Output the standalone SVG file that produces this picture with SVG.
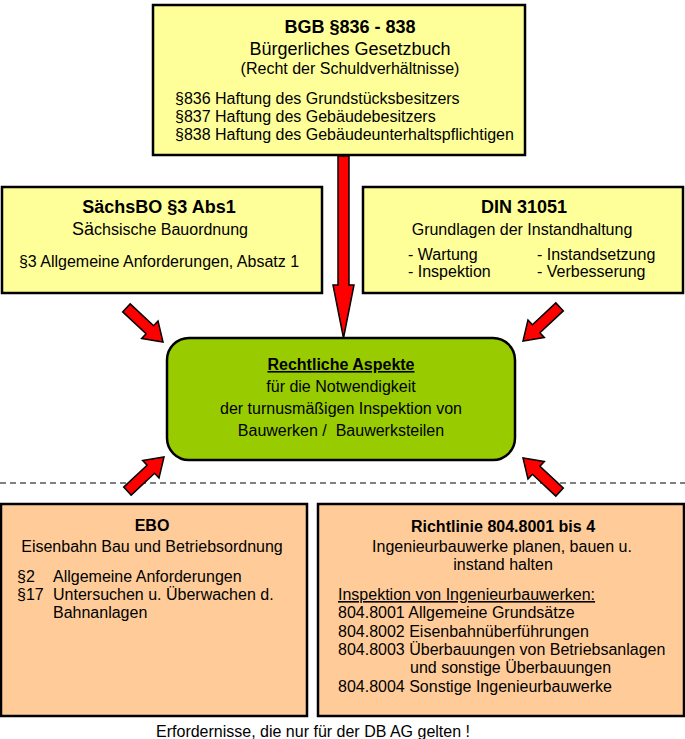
<svg xmlns="http://www.w3.org/2000/svg" width="685" height="739" viewBox="0 0 685 739">
<style>
text{font-family:"Liberation Sans",Arial,sans-serif;fill:#000;font-size:16px}
.b{font-weight:bold;font-size:18px}
.s18{font-size:18px}
.c{text-anchor:middle}
.u{text-decoration:underline}
.box{stroke:#000;stroke-width:2.5}
.y{fill:#FFFF99}
.o{fill:#FFCC99}
.arr{fill:#FF0000;stroke:#000;stroke-width:1.5;stroke-linejoin:miter}
</style>
<defs>
<polygon id="da" points="-50,-5.5 -18,-5.5 -18,-12 0,0 -18,12 -18,5.5 -50,5.5"/>
</defs>
<rect width="685" height="739" fill="#fff"/>
<g id="bgb">
<rect class="box y" x="153" y="5" width="372" height="150"/>
<text class="b c" x="350" y="33">BGB §836 - 838</text>
<text class="s18 c" x="350" y="55">Bürgerliches Gesetzbuch</text>
<text class="c" x="350" y="74">(Recht der Schuldverhältnisse)</text>
<text x="175" y="104">§836 Haftung des Grundstücksbesitzers</text>
<text x="175" y="122">§837 Haftung des Gebäudebesitzers</text>
<text x="175" y="140">§838 Haftung des Gebäudeunterhaltspflichtigen</text>
</g>
<g id="saechsbo">
<rect class="box y" x="2" y="187" width="320" height="106"/>
<text class="b c" x="159" y="213">SächsBO §3 Abs1</text>
<text class="c" x="160" y="235"><tspan font-size="18">Sä</tspan>chsische Bauordnung</text>
<text class="c" x="159" y="267">§3 Allgemeine Anforderungen, Absatz 1</text>
</g>
<g id="din">
<rect class="box y" x="363" y="187" width="320" height="106"/>
<text class="b c" x="524" y="213">DIN 31051</text>
<text class="c" x="522" y="235">Grundlagen der Instandhaltung</text>
<text x="408" y="260">- Wartung</text>
<text x="537" y="260">- Instandsetzung</text>
<text x="408" y="277">- Inspektion</text>
<text x="537" y="277">- Verbesserung</text>
</g>
<g id="rechtliche">
<rect class="box" fill="#99CC00" x="167" y="338" width="348" height="122" rx="22" ry="22"/>
<text class="c u" x="341" y="370" font-weight="bold" font-size="18.5">Rechtliche Aspekte</text>
<text class="c" x="341" y="392" font-size="18.5">für die Notwendigkeit</text>
<text class="c" x="341" y="414" font-size="18.5">der turnusmäßigen Inspektion von</text>
<text class="c" x="341" y="436" font-size="18.5" xml:space="preserve">Bauwerken /  Bauwerksteilen</text>
</g>
<g id="ebo">
<rect class="box o" x="1" y="504" width="306" height="212"/>
<text class="c" x="152" y="531" font-weight="bold" font-size="18.5">EBO</text>
<text class="c" x="152" y="552">Eisenbahn Bau und Betriebsordnung</text>
<text x="17" y="582">§2</text>
<text x="53" y="582">Allgemeine Anforderungen</text>
<text x="17" y="600">§17</text>
<text x="53" y="600">Untersuchen u. Überwachen d.</text>
<text x="53" y="618">Bahnanlagen</text>
</g>
<g id="richtlinie">
<rect class="box o" x="318" y="504" width="366" height="212"/>
<text class="c" x="503" y="532" font-weight="bold" font-size="18.5">Richtlinie 804.8001 bis 4</text>
<text class="c" x="502" y="552">Ingenieurbauwerke planen, bauen u.</text>
<text class="c" x="503" y="570">instand halten</text>
<text class="u" x="338" y="600">Inspektion von Ingenieurbauwerken:</text>
<text x="338" y="618">804.8001 Allgemeine Grundsätze</text>
<text x="338" y="637">804.8002 Eisenbahnüberführungen</text>
<text x="338" y="655">804.8003 Überbauungen von Betriebsanlagen</text>
<text x="410" y="673">und sonstige Überbauungen</text>
<text x="338" y="692">804.8004 Sonstige Ingenieurbauwerke</text>
</g>
<line x1="0" y1="483" x2="685" y2="483" stroke="#000" stroke-width="1" stroke-dasharray="6,4"/>
<g id="connectors">
<polygon class="arr" points="338,156 349,156 349,285 354,285 343.5,338 333,285 338,285"/>
<use href="#da" class="arr" transform="translate(163,342) rotate(43)"/>
<use href="#da" class="arr" transform="translate(523,341) rotate(137)"/>
<use href="#da" class="arr" transform="translate(164,457) rotate(-43)"/>
<use href="#da" class="arr" transform="translate(523,458) rotate(-137)"/>
</g>
<text class="c" x="313" y="737">Erfordernisse, die nur für der DB AG gelten !</text>
</svg>
